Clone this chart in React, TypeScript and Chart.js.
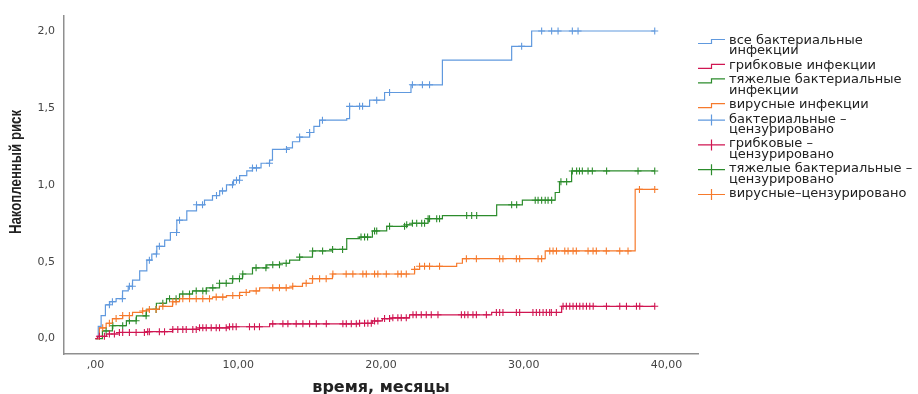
import React, { useEffect, useRef } from "react";
import { Chart, registerables } from "chart.js";

Chart.register(...registerables);

// ---- Data (time in months, cumulative hazard) ----
const bacterialTime = [0, 0.2, 0.4, 0.7, 1.0, 1.45, 1.9, 2.3, 2.6, 3.1, 3.6, 3.95, 4.3, 4.85, 5.25, 5.7, 6.4, 7.08, 7.64, 8.2, 8.7, 9.18, 9.67, 10.1, 10.6, 11.0, 11.6, 12.2, 12.4, 13.4, 13.8, 14.3, 15.0, 15.3, 15.7, 17.6, 17.8, 19.2, 20.25, 22.1, 24.3, 29.15, 30.55, 39.17];
const bacterialRisk = [0, 0.08, 0.15, 0.22, 0.24, 0.26, 0.31, 0.34, 0.38, 0.44, 0.51, 0.55, 0.6, 0.64, 0.69, 0.77, 0.83, 0.87, 0.9, 0.93, 0.96, 1.0, 1.03, 1.06, 1.09, 1.11, 1.14, 1.16, 1.23, 1.24, 1.28, 1.31, 1.34, 1.38, 1.42, 1.43, 1.51, 1.55, 1.6, 1.65, 1.81, 1.9, 2.0, 2.0];

const fungalTime = [0, 0.14, 0.77, 1.68, 3.57, 5.4, 7.29, 9.39, 12.2, 18.5, 19.4, 20.1, 20.8, 22.0, 27.75, 32.65, 39.17];
const fungalRisk = [0, 0.015, 0.03, 0.04, 0.045, 0.06, 0.07, 0.077, 0.096, 0.1, 0.115, 0.13, 0.135, 0.155, 0.17, 0.21, 0.21];

const severeTime = [0, 0.49, 1.19, 2.17, 2.87, 3.57, 4.27, 4.98, 5.89, 6.8, 7.78, 8.69, 9.6, 10.3, 11.0, 12.0, 12.9, 13.6, 14.3, 15.2, 16.6, 17.6, 18.5, 19.4, 20.4, 21.8, 22.2, 23.3, 24.3, 28.1, 29.9, 32.2, 32.5, 33.35, 39.17];
const severeRisk = [0, 0.05, 0.084, 0.116, 0.148, 0.19, 0.23, 0.26, 0.29, 0.31, 0.33, 0.36, 0.39, 0.42, 0.46, 0.48, 0.49, 0.51, 0.53, 0.57, 0.58, 0.65, 0.66, 0.7, 0.73, 0.74, 0.75, 0.78, 0.8, 0.87, 0.9, 0.95, 1.02, 1.09, 1.09];

const viralTime = [0, 0.28, 0.75, 1.19, 1.9, 2.6, 3.3, 3.78, 4.48, 5.4, 5.89, 8.2, 9.18, 10.1, 10.8, 11.5, 13.8, 14.5, 15.2, 16.6, 22.35, 22.7, 25.3, 25.7, 31.5, 37.8, 39.17];
const viralRisk = [0, 0.07, 0.1, 0.13, 0.15, 0.17, 0.18, 0.19, 0.21, 0.24, 0.26, 0.27, 0.28, 0.3, 0.31, 0.33, 0.34, 0.36, 0.39, 0.42, 0.45, 0.47, 0.49, 0.52, 0.57, 0.97, 0.97];

// censored observation times
const bacterialCensored = [0.98, 1.19, 1.89, 2.38, 2.59, 3.78, 4.27, 4.48, 5.68, 5.89, 7.08, 7.5, 8.48, 8.9, 9.6, 9.88, 10.09, 11.0, 11.28, 12.19, 13.38, 14.3, 15.0, 15.9, 17.8, 18.5, 18.71, 19.7, 20.6, 22.2, 22.9, 23.4, 29.85, 31.25, 31.95, 32.4, 33.4, 33.8, 39.17];
const fungalCensored = [0.28, 0.63, 0.98, 1.33, 1.68, 1.91, 2.38, 2.85, 3.43, 3.66, 3.78, 4.48, 4.84, 5.42, 5.77, 6.12, 6.36, 6.82, 7.06, 7.29, 7.52, 7.76, 8.11, 8.46, 8.69, 9.16, 9.39, 9.62, 9.86, 10.79, 11.14, 11.49, 12.42, 13.13, 13.48, 14.06, 14.53, 15.0, 15.47, 16.17, 17.33, 17.57, 17.92, 18.27, 18.5, 18.85, 19.08, 19.32, 19.55, 19.78, 20.25, 20.6, 20.83, 21.18, 21.42, 21.77, 22.24, 22.47, 22.82, 23.17, 23.52, 23.99, 25.63, 25.86, 26.09, 26.44, 26.68, 27.38, 28.08, 28.31, 28.54, 29.48, 29.71, 30.64, 30.88, 31.11, 31.35, 31.58, 31.81, 31.93, 32.28, 32.75, 32.98, 33.22, 33.45, 33.69, 33.92, 34.15, 34.39, 34.62, 34.86, 35.79, 36.72, 37.19, 37.89, 38.12, 39.17];
const severeCensored = [0.75, 1.22, 1.91, 2.38, 2.85, 3.55, 4.25, 4.72, 5.19, 5.65, 6.12, 6.59, 7.06, 7.52, 7.76, 8.22, 8.69, 9.16, 9.62, 10.09, 10.32, 11.25, 11.94, 12.42, 12.89, 13.36, 14.3, 15.21, 15.91, 16.61, 17.31, 18.6, 18.85, 19.06, 19.55, 19.7, 20.6, 21.65, 21.8, 22.2, 22.5, 22.85, 23.05, 23.3, 23.4, 23.9, 24.1, 26.0, 26.35, 26.7, 29.15, 29.5, 30.8, 31.0, 31.25, 31.5, 31.7, 31.95, 32.6, 33.0, 33.4, 33.7, 33.9, 34.1, 34.5, 34.8, 35.8, 38.0, 39.17];
const viralCensored = [0.51, 0.98, 1.45, 1.91, 2.38, 3.31, 3.78, 4.25, 4.72, 5.42, 5.65, 6.12, 6.59, 7.06, 7.52, 7.99, 8.46, 8.92, 9.62, 10.09, 10.56, 11.26, 12.42, 12.89, 13.36, 13.82, 14.76, 15.21, 15.7, 16.16, 16.63, 17.56, 18.03, 18.73, 18.97, 19.55, 19.78, 20.37, 21.18, 21.42, 21.77, 22.35, 22.7, 23.05, 23.4, 24.1, 25.98, 26.68, 28.31, 28.54, 29.48, 29.71, 31.0, 31.25, 31.82, 32.05, 32.29, 32.87, 33.1, 33.45, 33.68, 34.5, 34.85, 35.08, 35.78, 36.72, 37.3, 38.1, 39.17];

const xTicks = [0, 10, 20, 30, 40];
const yTicks = [0, 0.5, 1, 1.5, 2];
const xTitle = "время, месяцы";
const yTitle = "Накопленный риск";

const legendLabels = [
  ["все бактериальные", "инфекции"],
  ["грибковые инфекции"],
  ["тяжелые бактериальные", "инфекции"],
  ["вирусные инфекции"],
  ["бактериальные –", "цензурировано"],
  ["грибковые –", "цензурировано"],
  ["тяжелые бактериальные –", "цензурировано"],
  ["вирусные–цензурировано"],
];

const COLORS = {
  blue: "rgb(96,153,222)",
  red: "rgb(208,22,82)",
  green: "rgb(44,140,44)",
  orange: "rgb(246,122,44)",
};
const legendColors = [COLORS.blue, COLORS.red, COLORS.green, COLORS.orange, COLORS.blue, COLORS.red, COLORS.green, COLORS.orange];
const legendKinds = ["step", "step", "step", "step", "cross", "cross", "cross", "cross"];

function toPoints(t: number[], v: number[]) {
  return t.map((x, i) => ({ x, y: v[i] }));
}
function valueAt(t: number[], v: number[], time: number) {
  let val = v[0];
  for (let i = 0; i < t.length; i++) {
    if (t[i] <= time + 1e-9) val = v[i];
    else break;
  }
  return val;
}
function censorPoints(t: number[], v: number[], c: number[]) {
  return c.map((x) => ({ x, y: valueAt(t, v, x) }));
}
const fmt = (n: number, d: number) => {
  const s = n.toFixed(d).replace(".", ",");
  return s.startsWith("0,") && d === 2 ? s.slice(1) : s;
};

const overlayPlugin = {
  id: "overlay",
  afterDraw(chart: any) {
    const ctx = chart.ctx as CanvasRenderingContext2D;
    ctx.save();
    // y title (narrow face emulated by horizontal compression along the text)
    ctx.fillStyle = "#222";
    ctx.font = 'bold 16.5px "Liberation Sans", Arial, sans-serif';
    ctx.textAlign = "center";
    ctx.textBaseline = "middle";
    ctx.save();
    ctx.translate(16, 172);
    ctx.rotate(-Math.PI / 2);
    const w = ctx.measureText(yTitle).width;
    const sx = Math.min(1, 124 / w);
    ctx.scale(sx, 1);
    ctx.fillText(yTitle, 0, 0);
    ctx.restore();
    // x title
    ctx.font = 'bold 16px "DejaVu Sans", sans-serif';
    ctx.textBaseline = "alphabetic";
    const ca = chart.chartArea;
    ctx.fillText(xTitle, (ca.left + ca.right) / 2, 392);
    // legend
    ctx.font = '13px "DejaVu Sans", sans-serif';
    ctx.textAlign = "left";
    ctx.textBaseline = "alphabetic";
    const lineH = 10.3;
    const gap = 4.2;
    let y = 40;
    legendLabels.forEach((lines, i) => {
      const c = y + 1.5;
      ctx.strokeStyle = legendColors[i];
      ctx.lineWidth = 1.2;
      ctx.beginPath();
      if (legendKinds[i] === "step") {
        ctx.moveTo(698, c + 2);
        ctx.lineTo(711.5, c + 2);
        ctx.lineTo(711.5, c - 2);
        ctx.lineTo(725, c - 2);
      } else {
        ctx.moveTo(698, c);
        ctx.lineTo(725, c);
        ctx.moveTo(711.5, c - 5.5);
        ctx.lineTo(711.5, c + 5.5);
      }
      ctx.stroke();
      ctx.fillStyle = "#222";
      lines.forEach((ln, j) => {
        ctx.fillText(ln, 729, y + j * lineH + 4);
      });
      y += lines.length * lineH + gap;
    });
    ctx.restore();
  },
};

export default function App() {
  const ref = useRef<HTMLCanvasElement | null>(null);
  useEffect(() => {
    if (!ref.current) return;
    const lineDs = (t: number[], v: number[], color: string) => ({
      type: "line" as const,
      data: toPoints(t, v),
      borderColor: color,
      backgroundColor: color,
      borderWidth: 1.2,
      stepped: true,
      pointRadius: 0,
      fill: false,
    });
    const censorDs = (t: number[], v: number[], c: number[], color: string) => ({
      type: "line" as const,
      data: censorPoints(t, v, c),
      borderColor: color,
      backgroundColor: color,
      showLine: false,
      pointStyle: "cross",
      pointRadius: 3.5,
      pointBorderWidth: 1.1,
    });
    const chart = new Chart(ref.current, {
      type: "line",
      data: {
        datasets: [
          censorDs(fungalTime, fungalRisk, fungalCensored, COLORS.red),
          censorDs(viralTime, viralRisk, viralCensored, COLORS.orange),
          censorDs(severeTime, severeRisk, severeCensored, COLORS.green),
          censorDs(bacterialTime, bacterialRisk, bacterialCensored, COLORS.blue),
          lineDs(fungalTime, fungalRisk, COLORS.red),
          lineDs(viralTime, viralRisk, COLORS.orange),
          lineDs(severeTime, severeRisk, COLORS.green),
          lineDs(bacterialTime, bacterialRisk, COLORS.blue),
        ] as any,
      },
      options: {
        animation: false,
        responsive: false,
        layout: { padding: { left: 0, right: 220, top: 12, bottom: 0 } },
        plugins: { legend: { display: false }, tooltip: { enabled: false } },
        scales: {
          x: {
            type: "linear",
            min: -2.2,
            max: 42.2,
            afterFit: (s: any) => {
              s.height = 40;
            },
            afterBuildTicks: (s: any) => {
              s.ticks = xTicks.map((v) => ({ value: v }));
            },
            grid: { display: false, drawTicks: false },
            border: { display: true, color: "#8f8f8f", width: 1.5 },
            ticks: {
              padding: 5,
              color: "#444",
              font: { family: '"DejaVu Sans", sans-serif', size: 11 },
              callback: (v: any) => fmt(Number(v), 2),
            },
          },
          y: {
            type: "linear",
            min: -0.1,
            max: 2.1,
            afterFit: (s: any) => {
              s.width = 64;
            },
            afterBuildTicks: (s: any) => {
              s.ticks = yTicks.map((v) => ({ value: v }));
            },
            grid: { display: false, drawTicks: false },
            border: { display: true, color: "#8f8f8f", width: 1.5 },
            ticks: {
              padding: 9,
              color: "#444",
              font: { family: '"DejaVu Sans", sans-serif', size: 11 },
              callback: (v: any) => fmt(Number(v), 1),
            },
          },
        },
      },
      plugins: [overlayPlugin],
    });
    return () => chart.destroy();
  }, []);
  return (
    <div style={{ position: "fixed", left: 0, top: 0, width: 918, height: 394, background: "#fff" }}>
      <canvas ref={ref} width={918} height={394} />
    </div>
  );
}
